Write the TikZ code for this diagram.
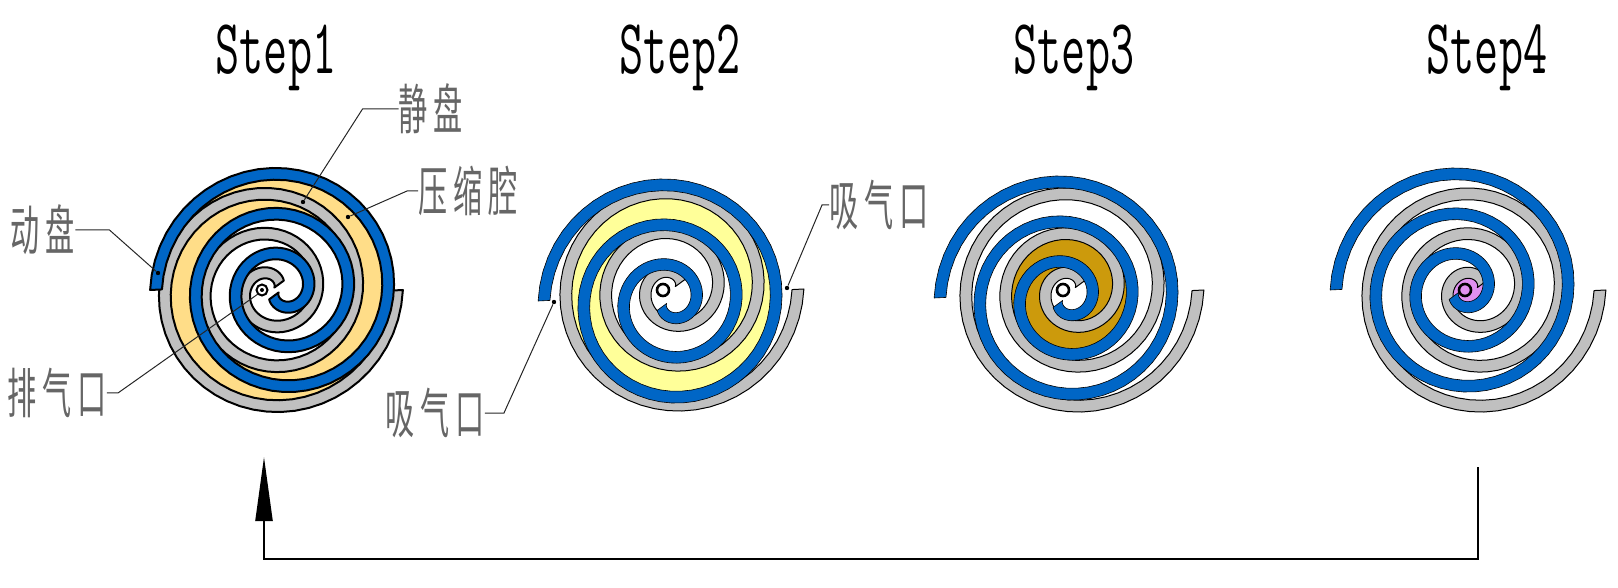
\documentclass[tikz,border=0pt]{standalone}
\usepackage{fontspec}
\usepackage{graphicx}
\usepackage{xcolor}
\usetikzlibrary{arrows.meta}
\newfontfamily\cjk{Noto Sans CJK SC}

\definecolor{orbitBlue}{HTML}{0066C6}
\definecolor{fixedGray}{HTML}{C0C0C0}
\definecolor{chamberOrange}{HTML}{FFDD88}
\definecolor{chamberYellow}{HTML}{FFFF99}
\definecolor{chamberGold}{HTML}{CC9A0C}
\definecolor{chamberPink}{HTML}{E090F0}

\tikzset{
    stepTitle/.style={inner sep=0pt, anchor=base, font=\ttfamily\fontsize{39pt}{39pt}\selectfont},
    partLabel/.style={inner sep=0pt, text=black!60, font=\cjk\fontsize{27pt}{27pt}\selectfont},
    leader/.style={line width=0.5pt, black!85},
    leaderDot/.style={circle, fill=black, inner sep=0pt, minimum size=2.2pt},
}

% Squeezed text, as the stroke font of the drawing
\newcommand{\stepText}[1]{\scalebox{0.6}[1]{#1}}
\newcommand{\partText}[1]{\scalebox{0.54}[1]{\addfontfeature{LetterSpace=20}#1}}

\begin{document}
\begin{tikzpicture}[x=0.5pt, y=-0.5pt]
        \useasboundingbox (0,0) rectangle (1618,588);

        % Parameters
        \def\wrapOuter{126}   % Radius of the outer end of a wrap
        \def\wrapPitch{40}    % Radius lost per turn
        \def\wrapHalf{5.9}    % Half of the wall thickness
        \def\wrapTurns{2.9}   % Turns of a wrap

        % Function to draw one wrap
        \newcommand{\drawWrap}[5]{
            % #1,#2: centre, #3: +1 fixed or -1 orbiting, #4: colour, #5: edge width
            \filldraw[fill=#4, draw=black, line width=#5, line join=round]
                plot[domain=0:\wrapTurns, samples=160] ({#1+#3*(\wrapOuter+\wrapHalf-\wrapPitch*\x)*cos(360*\x)},{#2+#3*(\wrapOuter+\wrapHalf-\wrapPitch*\x)*sin(360*\x)})
                -- plot[domain=\wrapTurns:0, samples=160] ({#1+#3*(\wrapOuter-\wrapHalf-\wrapPitch*\x)*cos(360*\x)},{#2+#3*(\wrapOuter-\wrapHalf-\wrapPitch*\x)*sin(360*\x)})
                -- cycle;
        }

        % Function to fill a chamber between the two wraps
        \newcommand{\fillChamber}[7]{
            % #1,#2: fixed centre, #3,#4: orbiting centre, #5: colour, #6: first turn, #7: shift of turn
            \pgfmathsetmacro{\turnEnd}{#6+1}
            \fill[#5]
                plot[domain=#6:\turnEnd, samples=80] ({#1+(\wrapOuter-\wrapPitch*\x)*cos(360*\x)},{#2+(\wrapOuter-\wrapPitch*\x)*sin(360*\x)})
                -- plot[domain=\turnEnd:#6, samples=80] ({#3-(\wrapOuter-\wrapPitch*(\x+#7))*cos(360*(\x+#7))},{#4-(\wrapOuter-\wrapPitch*(\x+#7))*sin(360*(\x+#7))})
                -- cycle;
        }

        % Step1
        \fillChamber{271}{290}{282}{290}{chamberOrange}{0.5}{-0.5}
        \fillChamber{271}{290}{282}{290}{chamberOrange}{0}{0.5}
        \drawWrap{271}{290}{1}{fixedGray}{1pt}
        \drawWrap{282}{290}{-1}{orbitBlue}{1pt}
        \draw[line width=1pt, fill=white] (262,290) circle (5.5);
        \fill (262,290) circle (2);

        % Step2
        \fillChamber{672}{289}{670}{301}{chamberYellow}{0.778}{-0.5}
        \fillChamber{672}{289}{670}{301}{chamberYellow}{0.278}{0.5}
        \drawWrap{672}{289}{1}{fixedGray}{0.5pt}
        \drawWrap{670}{301}{-1}{orbitBlue}{0.3pt}
        \draw[line width=1.3pt, fill=white] (663,290) circle (6);

        % Step3
        \fillChamber{1072}{290}{1066}{298}{chamberGold}{1.853}{-0.5}
        \fillChamber{1072}{290}{1066}{298}{chamberGold}{1.353}{0.5}
        \drawWrap{1072}{290}{1}{fixedGray}{0.5pt}
        \drawWrap{1066}{298}{-1}{orbitBlue}{0.3pt}
        \draw[line width=1.3pt, fill=white] (1063,290) circle (6);

        % Step4
        \fill[chamberPink] (1468,290) ellipse (16 and 12);
        \drawWrap{1474}{290}{1}{fixedGray}{0.5pt}
        \drawWrap{1462}{290}{-1}{orbitBlue}{0.3pt}
        \draw[line width=1.3pt, fill=chamberPink] (1465,290) circle (6);

        % Titles
        \node[stepTitle] (stepOne) at (276,74) {\stepText{Step1}};
        \node[stepTitle] (stepTwo) at (680,74) {\stepText{Step2}};
        \node[stepTitle] (stepThree) at (1074,74) {\stepText{Step3}};
        \node[stepTitle] (stepFour) at (1487,74) {\stepText{Step4}};

        % Part labels
        \node[partLabel] (staticLabel) at (431,109) {\partText{静盘}};
        \node[partLabel] (chamberLabel) at (468,191) {\partText{压缩腔}};
        \node[partLabel] (orbitLabel) at (43,230) {\partText{动盘}};
        \node[partLabel] (outletLabel) at (57,393) {\partText{排气口}};
        \node[partLabel] (inletLeftLabel) at (435,413) {\partText{吸气口}};
        \node[partLabel] (inletRightLabel) at (879,205) {\partText{吸气口}};

        % Points the leaders end at
        \node[leaderDot] (staticDot) at (303,202) {};
        \node[leaderDot] (chamberDot) at (348,217) {};
        \node[leaderDot] (orbitDot) at (158,273) {};
        \node[leaderDot] (inletLeftDot) at (554,302) {};
        \node[leaderDot] (inletRightDot) at (787,288) {};
        \coordinate (outletEnd) at (258,294);

        % Leaders
        \draw[leader] (staticLabel.west) -- ++(-36,0) -- (staticDot);
        \draw[leader] (chamberLabel.west) -- ++(-11,0) -- (chamberDot);
        \draw[leader] (orbitLabel.east) -- ++(34,0) -- (orbitDot);
        \draw[leader] (outletLabel.east) -- ++(11,0) -- (outletEnd);
        \draw[leader] (inletLeftLabel.east) -- ++(19,0) -- (inletLeftDot);
        \draw[leader] (inletRightLabel.west) -- ++(-7,0) -- (inletRightDot);

        % Return arrow from the last step to the first
        \coordinate (loopStart) at (1478,467);
        \coordinate (loopEnd) at (264,457);
        \draw[line width=1.1pt, -{Triangle[length=32pt, width=8.5pt]}] (loopStart) |- (264,559) -- (loopEnd);
\end{tikzpicture}
\end{document}
